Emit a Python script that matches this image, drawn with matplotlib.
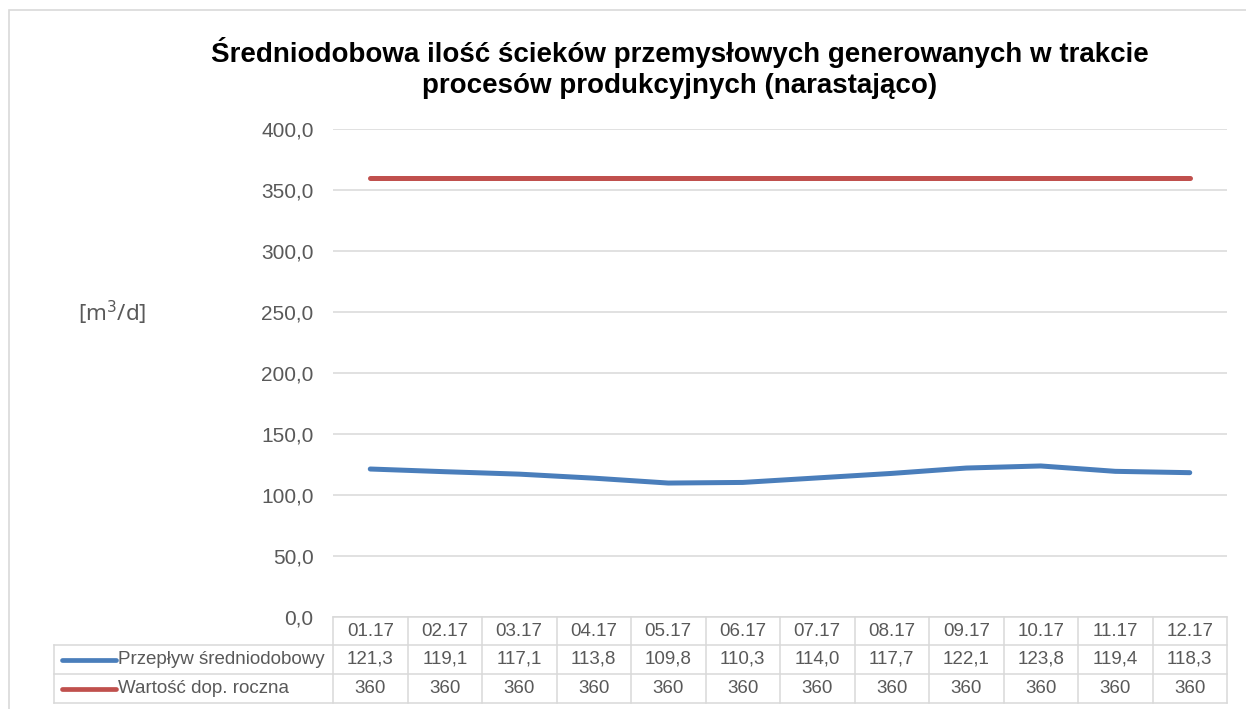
import matplotlib
matplotlib.use("Agg")
import matplotlib.pyplot as plt
import numpy as np
from matplotlib.patches import Rectangle

months = ["01.17", "02.17", "03.17", "04.17", "05.17", "06.17",
          "07.17", "08.17", "09.17", "10.17", "11.17", "12.17"]
flow = [121.3, 119.1, 117.1, 113.8, 109.8, 110.3, 114.0, 117.7, 122.1, 123.8, 119.4, 118.3]
limit = [360] * 12
series_names = ["Przepływ średniodobowy", "Wartość dop. roczna"]
colors = ["#4a7ebb", "#c0504d"]

plt.rcParams['font.family'] = ['Liberation Sans', 'DejaVu Sans']
grey = "#595959"
grid = "#d9d9d9"

fig = plt.figure(figsize=(12.46, 7.09), dpi=100)
W, H = 1246, 709

# outer chart border
fig.patches.append(Rectangle((9 / W, -0.01), 1.0, 1 - 10 / H + 0.01, transform=fig.transFigure,
                             fill=False, edgecolor=grid, linewidth=1.2))

ax = fig.add_axes([333 / W, 1 - 617 / H, 894 / W, 488 / H])
x = np.arange(len(months))
ax.plot(x, flow, color=colors[0], linewidth=3.6, solid_capstyle="round")
ax.plot(x, limit, color=colors[1], linewidth=3.6, solid_capstyle="round")

ax.set_xlim(-0.5, len(months) - 0.5)
ax.set_ylim(0, 400)
ax.set_yticks(np.arange(0, 401, 50))
ax.set_yticklabels([f"{v:.1f}".replace(".", ",") for v in np.arange(0, 401, 50)])
ax.tick_params(axis="y", length=0, pad=14, labelsize=15, labelcolor=grey)
ax.set_xticks([])
ax.grid(axis="y", color=grid, linewidth=1.1)
ax.set_axisbelow(True)
for s in ax.spines.values():
    s.set_visible(False)

# data table under the plot
n = len(months)
rows = [0, -28 / 488, -57 / 488, -86 / 488]
left = (54 - 333) / 894
tr = ax.transAxes
lkw = dict(color=grid, linewidth=1.1, transform=tr, clip_on=False)
ax.plot([0, 1], [rows[0]] * 2, **lkw)
for r in rows[1:]:
    ax.plot([left, 1], [r, r], **lkw)
for k in range(n + 1):
    ax.plot([k / n] * 2, [rows[0], rows[3]], **lkw)
ax.plot([left, left], [rows[1], rows[3]], **lkw)

tkw = dict(transform=tr, ha="center", va="center", fontsize=13.5, color=grey, clip_on=False)
for i, m in enumerate(months):
    cx = (i + 0.5) / n
    ax.text(cx, (rows[0] + rows[1]) / 2, m, **tkw)
    ax.text(cx, (rows[1] + rows[2]) / 2, f"{flow[i]:.1f}".replace(".", ","), **tkw)
    ax.text(cx, (rows[2] + rows[3]) / 2, str(limit[i]), **tkw)

for j, (name, c) in enumerate(zip(series_names, colors)):
    cy = (rows[j + 1] + rows[j + 2]) / 2
    ax.plot([(62 - 333) / 894, (116 - 333) / 894], [cy, cy], color=c, linewidth=3.4,
            solid_capstyle="round", transform=tr, clip_on=False)
    ax.text((118 - 333) / 894, cy, name, transform=tr, ha="left", va="center",
            fontsize=13.5, color=grey, clip_on=False)

fig.text(680 / W, 1 - 68 / H, "Średniodobowa ilość ścieków przemysłowych generowanych w trakcie\n"
         "procesów produkcyjnych (narastająco)", ha="center", va="center",
         fontsize=20, fontweight="bold", linespacing=1.22)
fig.text(112 / W, 1 - 313 / H, "[m$^3$/d]", ha="center", va="center",
         fontsize=16, color=grey, family=["Noto Sans", "DejaVu Sans"])

fig.savefig("out.png", dpi=100)
